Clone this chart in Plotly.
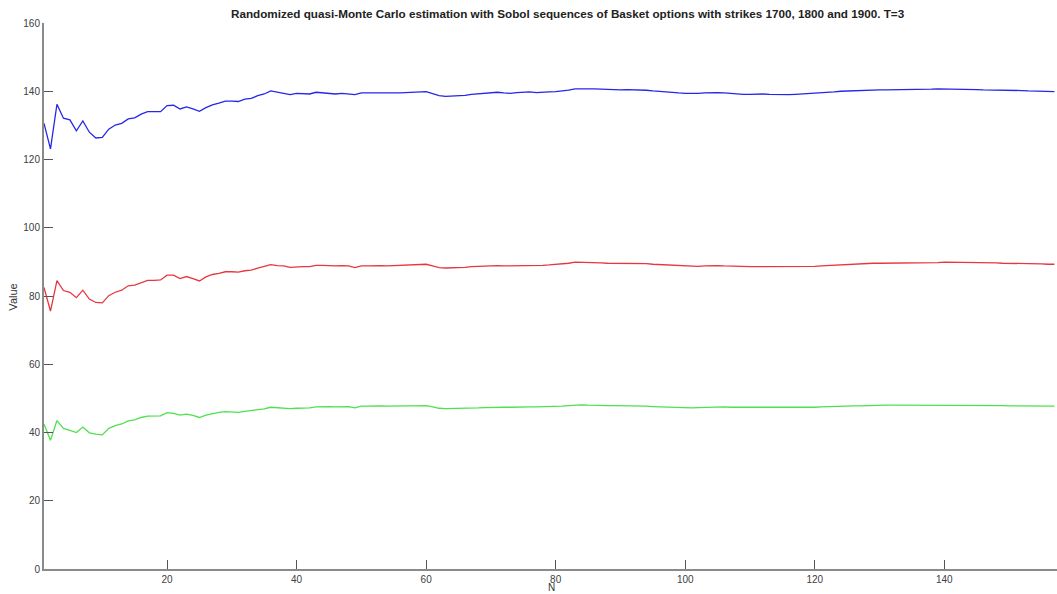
import plotly.graph_objects as go

N = list(range(1, 158))

strike_1700 = [
    130.6, 123.1, 136.2, 132.1, 131.6, 128.4, 131.3, 128.0, 126.3, 126.5,
    128.9, 130.1, 130.6, 131.9, 132.2, 133.3, 134.0, 134.0, 134.0, 135.8,
    135.9, 134.8, 135.4, 134.8, 134.1, 135.2, 136.0, 136.5, 137.1, 137.1,
    137.0, 137.7, 137.9, 138.7, 139.2, 140.1, 139.7, 139.5, 139.0, 139.4,
    139.3, 139.2, 139.7, 139.6, 139.4, 139.2, 139.4, 139.2,
    139.0, 139.5, 139.4, 139.5, 139.5, 139.4, 139.5, 139.5, 139.6, 139.7,
    139.8, 139.9, 139.3, 138.7, 138.5, 138.6, 138.6, 138.8, 139.1, 139.3,
    139.4, 139.6, 139.7, 139.5, 139.4, 139.6, 139.7, 139.8, 139.6, 139.6,
    139.8, 139.9, 140.0, 140.3, 140.7, 140.8, 140.7, 140.7, 140.6, 140.5,
    140.4, 140.4, 140.5, 140.5, 140.5, 140.3, 140.1, 139.9, 139.8, 139.6,
    139.5, 139.4, 139.3, 139.4, 139.5, 139.6, 139.6, 139.5, 139.3, 139.2,
    139.1, 139.1, 139.2, 139.2, 139.1, 139.0, 139.0, 139.0, 139.1, 139.2,
    139.3, 139.3, 139.4, 139.6, 139.8, 140.0, 140.1, 140.2, 140.2, 140.3,
    140.3, 140.4, 140.4, 140.4, 140.5, 140.5, 140.6, 140.6, 140.6, 140.6,
    140.7, 140.7, 140.7, 140.7, 140.6, 140.6, 140.5, 140.4, 140.4, 140.3,
    140.3, 140.3, 140.2, 140.2, 140.1, 140.1, 140.0, 140.0, 139.9,
]

strike_1800 = [
    82.5, 75.6, 84.5, 81.6, 81.1, 79.5, 81.7, 79.1, 78.1, 78.0,
    80.1, 81.1, 81.7, 83.0, 83.2, 84.0, 84.6, 84.6, 84.7, 86.1,
    86.1, 85.1, 85.7, 85.1, 84.4, 85.6, 86.3, 86.6, 87.1, 87.1,
    87.0, 87.4, 87.6, 88.2, 88.6, 89.2, 88.9, 88.8, 88.4, 88.6,
    88.6, 88.6, 89.0, 89.0, 88.8, 88.8, 88.9, 88.8,
    88.3, 88.8, 88.8, 88.9, 88.9, 88.8, 88.9, 88.9, 89.0, 89.1,
    89.2, 89.3, 88.8, 88.3, 88.2, 88.2, 88.3, 88.4, 88.6, 88.7,
    88.8, 88.9, 88.9, 88.8, 88.8, 88.9, 89.0, 89.0, 88.9, 89.0,
    89.1, 89.2, 89.3, 89.6, 89.9, 89.9, 89.8, 89.7, 89.7, 89.6,
    89.6, 89.6, 89.6, 89.6, 89.6, 89.5, 89.3, 89.2, 89.1, 88.9,
    88.8, 88.7, 88.6, 88.7, 88.8, 88.9, 88.9, 88.8, 88.7, 88.6,
    88.6, 88.6, 88.6, 88.6, 88.5, 88.5, 88.5, 88.5, 88.5, 88.6,
    88.6, 88.7, 88.8, 88.9, 89.1, 89.3, 89.4, 89.5, 89.5, 89.5,
    89.6, 89.6, 89.6, 89.6, 89.6, 89.7, 89.7, 89.7, 89.7, 89.8,
    89.8, 89.9, 89.9, 89.9, 89.8, 89.8, 89.8, 89.7, 89.7, 89.7,
    89.6, 89.6, 89.5, 89.5, 89.5, 89.4, 89.4, 89.3, 89.3,
]

strike_1900 = [
    42.5, 37.7, 43.5, 41.2, 40.6, 40.0, 41.6, 39.9, 39.5, 39.3,
    41.2, 42.0, 42.5, 43.4, 43.7, 44.4, 44.8, 44.9, 44.9, 45.8,
    45.6, 45.1, 45.4, 45.0, 44.4, 45.1, 45.6, 45.9, 46.1, 46.1,
    45.9, 46.2, 46.4, 46.6, 46.9, 47.4, 47.2, 47.1, 47.0, 47.1,
    47.1, 47.2, 47.5, 47.6, 47.6, 47.5, 47.6, 47.6,
    47.2, 47.7, 47.7, 47.8, 47.8, 47.7, 47.8, 47.8, 47.8, 47.8,
    47.9, 47.9, 47.5, 47.1, 47.0, 47.0, 47.0, 47.0, 47.1, 47.2,
    47.3, 47.4, 47.4, 47.4, 47.4, 47.5, 47.5, 47.5, 47.5, 47.5,
    47.6, 47.6, 47.7, 47.9, 48.1, 48.1, 48.0, 47.9, 47.9, 47.9,
    47.9, 47.9, 47.8, 47.8, 47.8, 47.7, 47.6, 47.5, 47.5, 47.4,
    47.3, 47.3, 47.2, 47.3, 47.4, 47.5, 47.6, 47.5, 47.4, 47.4,
    47.3, 47.3, 47.3, 47.3, 47.2, 47.2, 47.2, 47.2, 47.2, 47.3,
    47.3, 47.4, 47.5, 47.6, 47.6, 47.7, 47.7, 47.8, 47.8, 47.9,
    47.9, 47.9, 48.0, 48.0, 48.0, 48.0, 48.1, 48.1, 48.1, 48.1,
    48.1, 48.1, 48.1, 48.1, 48.0, 48.0, 48.0, 47.9, 47.9, 47.9,
    47.9, 47.8, 47.8, 47.8, 47.8, 47.7, 47.7, 47.7, 47.7,
]

title_text = ("Randomized quasi-Monte Carlo estimation with Sobol sequences of "
              "Basket options with strikes 1700, 1800 and 1900. T=3")

fig = go.Figure()
for vals, col in [(strike_1700, "#2626e8"), (strike_1800, "#e8363e"), (strike_1900, "#4ee04e")]:
    fig.add_trace(go.Scatter(x=N, y=vals, mode="lines",
                             line=dict(color=col, width=1.3), showlegend=False))

axis_font = dict(family="Liberation Sans, Arial, sans-serif", size=10, color="#404040")

fig.update_layout(
    width=1057, height=594,
    margin=dict(l=44, r=0, t=23, b=25),
    paper_bgcolor="white", plot_bgcolor="white",
    xaxis=dict(range=[1, 157.4], tick0=0, dtick=20, ticks="inside", ticklen=9,
               tickcolor="#555555", tickwidth=1, showgrid=False, zeroline=False,
               showline=True, linecolor="#8a8a8a", linewidth=2,
               tickfont=axis_font, automargin=False),
    yaxis=dict(range=[0, 160], tick0=0, dtick=20, ticks="inside", ticklen=9,
               tickcolor="#555555", tickwidth=1, showgrid=False, zeroline=False,
               showline=True, linecolor="#8a8a8a", linewidth=2,
               tickfont=axis_font, automargin=False),
    annotations=[
        dict(text="<b>" + title_text + "</b>", xref="paper", yref="paper",
             x=0.5168, y=1, yshift=10, xanchor="center", yanchor="middle",
             showarrow=False,
             font=dict(family="Liberation Sans, Arial, sans-serif", size=11.7, color="#222222")),
        dict(text="N", xref="paper", yref="paper", x=0.501, y=0, yshift=-24.5,
             xanchor="center", yanchor="bottom", showarrow=False, borderpad=0,
             font=dict(family="Liberation Sans, Arial, sans-serif", size=10, color="#333333")),
        dict(text="Value", xref="paper", yref="paper", x=0, xshift=-31, y=0.497,
             xanchor="center", yanchor="middle", textangle=-90, showarrow=False,
             font=dict(family="Liberation Sans, Arial, sans-serif", size=11, color="#333333")),
    ],
)

fig.write_html(
    "out.html",
    config={"displayModeBar": False},
    post_script="document.body.style.margin='0';document.body.style.overflow='hidden';",
)
